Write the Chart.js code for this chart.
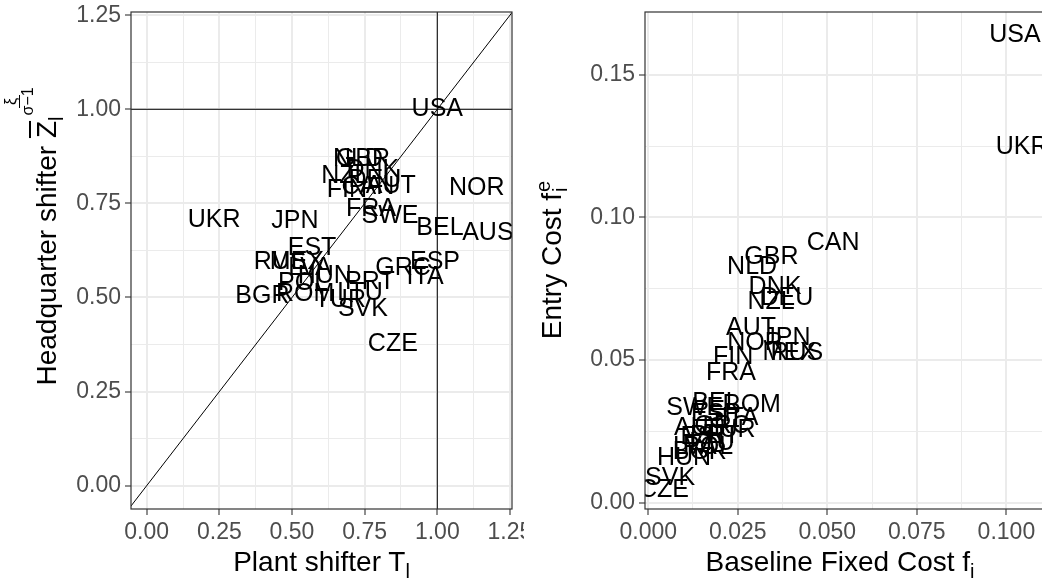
<!DOCTYPE html>
<html>
<head>
<meta charset="utf-8">
<script src="https://cdn.jsdelivr.net/npm/chart.js@4.4.1/dist/chart.umd.min.js"></script>
<style>
html, body { margin: 0; padding: 0; background: #fff; overflow: hidden; width: 1042px; height: 578px;
  font-family: "Liberation Sans", Arial, sans-serif; }
#left { position: absolute; left: 0; top: 0; width: 524px; height: 578px; }
#right { position: absolute; left: 524px; top: 0; width: 520px; height: 578px; }
.title { position: absolute; font-size: 28px; line-height: 28px; color: #000; white-space: nowrap; text-align: center; }
.ytitle { position: absolute; width: 420px; height: 40px; line-height: 40px; font-size: 28px; color: #000;
  white-space: nowrap; text-align: center; transform: rotate(-90deg); }
.sub { font-size: 20px; position: relative; top: 7px; }
.ss { display: inline-block; vertical-align: -6px; font-size: 20px; line-height: 17px; text-align: left; margin-left: 1px; }
.ss span { display: block; }
/* fraction exponent: kept out of the line box so the baseline does not move */
.frac { display: inline-block; position: relative; width: 28px; height: 1px; }
.frac .fr { position: absolute; left: 1px; bottom: 20px; display: flex; flex-direction: column; align-items: center;
  font-size: 16px; line-height: 16px; }
.frac .num { border-bottom: 1px solid #000; padding: 0 3px; }
</style>
</head>
<body>
<div id="left"><canvas id="hq"></canvas></div>
<div id="right"><canvas id="cost"></canvas></div>

<div class="title" style="left:0; width:643px; top:548px;">Plant shifter T<span class="sub">l</span></div>
<div class="title" style="left:640px; width:400px; top:548px;">Baseline Fixed Cost f<span class="sub">i</span></div>
<div class="ytitle" style="left:-163px; top:217px;">Headquarter shifter <span style="text-decoration:overline">Z</span><span class="sub">l</span><span class="frac"><span class="fr"><span class="num">ξ</span><span>σ−1</span></span></span></div>
<div class="ytitle" style="left:342px; top:240px;">Entry Cost f<span class="ss"><span>e</span><span>i</span></span></div>

<script>
// countries, same order in both panels
const countries = ['USA','UKR','JPN','NOR','BEL','AUS','SWE','FRA','FIN','AUT','CAN','DEU','NLD','GBR','DNK','NZL',
  'EST','RUS','MEX','LVA','HUN','POL','ROM','BGR','TUR','LTU','PRT','SVK','CZE','GRC','ESP','ITA'];

// left panel: plant shifter T_l vs headquarter shifter
const plantShifter = [1.000,0.232,0.510,1.136,1.009,1.174,0.837,0.772,0.689,0.840,0.761,0.785,0.727,0.744,0.778,0.682,
  0.569,0.459,0.517,0.562,0.613,0.538,0.545,0.398,0.666,0.734,0.768,0.744,0.847,0.882,0.992,0.958];
const hqShifter = [1.000,0.706,0.703,0.791,0.684,0.671,0.716,0.735,0.786,0.796,0.794,0.812,0.868,0.868,0.839,0.823,
  0.631,0.594,0.594,0.578,0.557,0.539,0.509,0.504,0.493,0.511,0.541,0.469,0.376,0.578,0.594,0.554];

// right panel: baseline fixed cost f_i vs entry cost f_i^e
const baselineCost = [0.1024,0.1044,0.0387,0.0298,0.0189,0.0144,0.0130,0.0231,0.0237,0.0287,0.0516,0.0387,0.0290,0.0344,0.0354,0.0343,
  0.0158,0.0415,0.0395,0.0130,0.0100,0.0167,0.0289,0.0144,0.0228,0.0178,0.0186,0.0061,0.0044,0.0206,0.0189,0.0256];
const entryCost = [0.1640,0.1247,0.0577,0.0560,0.0349,0.0261,0.0332,0.0454,0.0511,0.0612,0.0911,0.0718,0.0826,0.0861,0.0756,0.0704,
  0.0230,0.0524,0.0524,0.0195,0.0156,0.0195,0.0342,0.0177,0.0254,0.0209,0.0233,0.0086,0.0044,0.0268,0.0311,0.0296];

// axis ticks (labelled ones)
const hqTicks = [0, 0.25, 0.5, 0.75, 1, 1.25];
const costXTicks = [0, 0.025, 0.05, 0.075, 0.1];
const costYTicks = [0, 0.05, 0.1, 0.15];

// reference lines in the left panel
const refLevel = 1;
const diagEnds = [-1, 2];

const FONT = '"Liberation Sans", Arial, sans-serif';
Chart.defaults.font.family = FONT;

function isOn(v, list) { return list.some(t => Math.abs(t - v) < 1e-9); }

function axis(min, max, step, majors, digits, horizontal, size) {
  return {
    type: 'linear', min, max,
    border: { display: false },
    afterFit(s) {
      if (horizontal) { s.height = size; s.paddingLeft = 0; s.paddingRight = 0; }
      else { s.width = size; s.paddingTop = 0; s.paddingBottom = 0; }
    },
    ticks: {
      stepSize: step, includeBounds: false, autoSkip: false, maxRotation: 0, minRotation: 0,
      color: '#4D4D4D', font: { size: 23 }, padding: 4,
      callback: v => isOn(v, majors) ? v.toFixed(digits) : ''
    },
    grid: {
      color: '#EBEBEB',
      lineWidth: c => (c.tick && isOn(c.tick.value, majors)) ? 2 : 1,
      tickLength: 6, tickWidth: 1.1,
      tickColor: c => (c.tick && isOn(c.tick.value, majors)) ? '#333333' : 'rgba(0,0,0,0)'
    }
  };
}

// country codes written at the points + panel border
const countryLabels = {
  id: 'countryLabels',
  afterDatasetsDraw(chart) {
    const ctx = chart.ctx, a = chart.chartArea;
    ctx.save();
    ctx.beginPath();
    ctx.rect(a.left, a.top, a.right - a.left, a.bottom - a.top);
    ctx.clip();
    ctx.font = '25px ' + FONT;
    ctx.fillStyle = '#000';
    ctx.textAlign = 'center';
    ctx.textBaseline = 'middle';
    chart.data.datasets.forEach((ds, i) => {
      if (!ds.names) return;
      chart.getDatasetMeta(i).data.forEach((pt, j) => ctx.fillText(ds.names[j], pt.x, pt.y));
    });
    ctx.restore();
    ctx.save();
    ctx.strokeStyle = '#333333';
    ctx.lineWidth = 1.2;
    ctx.strokeRect(a.left, a.top, a.right - a.left, a.bottom - a.top);
    ctx.restore();
  }
};

const refStyle = { showLine: true, borderColor: '#000', borderWidth: 1, pointRadius: 0, clip: 0 };

new Chart(document.getElementById('hq'), {
  type: 'scatter',
  data: {
    datasets: [
      { ...refStyle, data: diagEnds.map(v => ({ x: v, y: v })) },
      { ...refStyle, data: diagEnds.map(v => ({ x: v, y: refLevel })) },
      { ...refStyle, data: diagEnds.map(v => ({ x: refLevel, y: v })) },
      { names: countries, pointRadius: 0, data: countries.map((c, i) => ({ x: plantShifter[i], y: hqShifter[i] })) }
    ]
  },
  options: {
    responsive: true, maintainAspectRatio: false, animation: false,
    layout: { padding: { top: 12, right: 12, left: 0, bottom: 0 } },
    plugins: { legend: { display: false }, tooltip: { enabled: false } },
    scales: {
      x: axis(-0.054, 1.257, 0.125, hqTicks, 2, true, 69),
      y: axis(-0.062, 1.2585, 0.125, hqTicks, 2, false, 131)
    }
  },
  plugins: [countryLabels]
});

new Chart(document.getElementById('cost'), {
  type: 'scatter',
  data: {
    datasets: [
      { names: countries, pointRadius: 0, data: countries.map((c, i) => ({ x: baselineCost[i], y: entryCost[i] })) }
    ]
  },
  options: {
    responsive: true, maintainAspectRatio: false, animation: false,
    layout: { padding: { top: 12, right: 0, left: 0, bottom: 0 } },
    plugins: { legend: { display: false }, tooltip: { enabled: false } },
    scales: {
      x: axis(-0.0009, 0.1105, 0.0125, costXTicks, 3, true, 69),
      y: axis(-0.00228, 0.1721, 0.025, costYTicks, 2, false, 121)
    }
  },
  plugins: [countryLabels]
});
</script>
</body>
</html>
